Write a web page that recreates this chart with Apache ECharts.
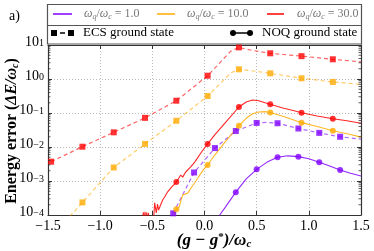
<!DOCTYPE html>
<html><head><meta charset="utf-8">
<script src="https://cdn.jsdelivr.net/npm/echarts@6/dist/echarts.min.js"></script>
<style>html,body{margin:0;padding:0;background:#fff}#c{width:374px;height:251px}</style>
</head><body><div id="c"></div>
<script>
// ---------- data ----------
const xTicks = [-1.5, -1.0, -0.5, 0.0, 0.5, 1.0, 1.5];
const yTickExps = [-4, -3, -2, -1, 0, 1];
const legendLabels = ['1.0', '10.0', '30.0'];

// ECS ground state (dashed lines, square markers)
const ecsRedX = [-1.47, -1.17, -0.87, -0.57, -0.27, 0.03, 0.25, 0.33, 0.45, 0.63, 0.93, 1.23, 1.5];
const ecsRedY = [3.7e-3, 0.0102, 0.027, 0.072, 0.23, 1.25, 6.5, 8.5, 7.0, 5.7, 4.7, 3.8, 3.2];
const ecsRedMX = [-1.47, -1.17, -0.87, -0.57, -0.27, 0.03, 0.33, 0.63, 0.93, 1.23];
const ecsRedMY = [3.7e-3, 0.0102, 0.027, 0.072, 0.23, 1.25, 8.5, 5.7, 4.7, 3.8];

const ecsOrangeX = [-1.47, -1.17, -0.87, -0.57, -0.27, 0.03, 0.25, 0.33, 0.45, 0.63, 0.93, 1.23, 1.5];
const ecsOrangeY = [2.2e-5, 2.35e-4, 2.5e-3, 0.0123, 0.059, 0.316, 1.5, 1.93, 1.75, 1.47, 1.05, 0.82, 0.69];
const ecsOrangeMX = [-1.17, -0.87, -0.57, -0.27, 0.03, 0.33, 0.63, 0.93, 1.23];
const ecsOrangeMY = [2.35e-4, 2.5e-3, 0.0123, 0.059, 0.316, 1.93, 1.47, 1.05, 0.82];

const ecsPurpleX = [-0.3, -0.1, 0.1, 0.3, 0.5, 0.6, 0.7, 0.9, 1.1, 1.3, 1.5];
const ecsPurpleY = [1.12e-4, 1.78e-3, 9.3e-3, 0.0295, 0.051, 0.053, 0.05, 0.035, 0.026, 0.02, 0.017];
const ecsPurpleMX = [-0.3, -0.1, 0.1, 0.3, 0.5, 0.7, 0.9, 1.1, 1.3];
const ecsPurpleMY = [1.12e-4, 1.78e-3, 9.3e-3, 0.0295, 0.051, 0.05, 0.035, 0.026, 0.02];

// NOQ ground state (solid lines, circle markers)
const noqRedX = [-0.62, -0.585, -0.578, -0.57, -0.562, -0.553, -0.545, -0.537, -0.53, -0.52, -0.487, -0.478, -0.462, -0.45, -0.44, -0.42, -0.40, -0.382, -0.353, -0.324, -0.27, -0.257, -0.228, -0.209, -0.18, -0.132, -0.094, -0.03, 0.03, 0.1, 0.2, 0.33, 0.4, 0.46, 0.52, 0.58, 0.63, 0.75, 0.85, 0.93, 1.08, 1.23, 1.38, 1.5];
const noqRedY = [3e-5, 1.2e-4, 5e-5, 1.25e-4, 6e-5, 1.2e-4, 5e-5, 1.15e-4, 6e-5, 7e-5, 8e-5, 2.3e-4, 1.15e-4, 2.1e-4, 1.4e-4, 2.0e-4, 2.8e-4, 3.4e-4, 4.8e-4, 6.2e-4, 9.3e-4, 1.07e-3, 1.5e-3, 1.3e-3, 1.84e-3, 2.6e-3, 3.6e-3, 7.0e-3, 0.0123, 0.023, 0.052, 0.15, 0.21, 0.24, 0.23, 0.2, 0.18, 0.14, 0.118, 0.102, 0.082, 0.068, 0.058, 0.05];
const noqRedMX = [-0.27, 0.03, 0.33, 0.63, 0.93, 1.23];
const noqRedMY = [9.3e-4, 0.0123, 0.15, 0.18, 0.102, 0.068];

const noqOrangeX = [-0.31, -0.285, -0.27, -0.241, -0.225, -0.209, -0.193, -0.161, -0.129, -0.097, -0.065, -0.033, 0.0, 0.03, 0.1, 0.2, 0.33, 0.4, 0.46, 0.52, 0.58, 0.63, 0.75, 0.85, 0.93, 1.08, 1.23, 1.38, 1.5];
const noqOrangeY = [5e-5, 1.1e-4, 1.48e-4, 1.75e-4, 2.75e-4, 3.9e-4, 3.5e-4, 4.4e-4, 6.2e-4, 8.6e-4, 1.2e-3, 1.7e-3, 2.35e-3, 2.95e-3, 5.9e-3, 0.0144, 0.0425, 0.07, 0.095, 0.107, 0.11, 0.103, 0.08, 0.063, 0.052, 0.04, 0.030, 0.024, 0.0195];
const noqOrangeMX = [-0.27, 0.03, 0.33, 0.63, 0.93, 1.23];
const noqOrangeMY = [1.48e-4, 2.95e-3, 0.0425, 0.103, 0.052, 0.030];

const noqPurpleX = [0.12, 0.146, 0.2, 0.3, 0.4, 0.5, 0.6, 0.7, 0.8, 0.9, 1.0, 1.1, 1.2, 1.3, 1.4, 1.5];
const noqPurpleY = [7e-5, 1e-4, 1.7e-4, 4.7e-4, 1.15e-3, 2.2e-3, 3.6e-3, 5.0e-3, 5.5e-3, 5.2e-3, 4.5e-3, 3.55e-3, 2.75e-3, 2.1e-3, 1.7e-3, 1.4e-3];
const noqPurpleMX = [0.3, 0.5, 0.7, 0.9, 1.1, 1.3];
const noqPurpleMY = [4.7e-4, 2.2e-3, 5.0e-3, 5.2e-3, 3.55e-3, 2.1e-3];

// ---------- styling ----------
const PURPLE = '#8000ff', ORANGE = '#ffaa00', RED = '#ff0000';
const SERIF = '"Liberation Serif", "DejaVu Serif", serif';
const zip = (xs, ys) => xs.map((x, i) => [x, ys[i]]);
const minorVals = [];
for (let e = -4; e <= 0; e++) for (let k = 2; k <= 9; k++) minorVals.push([0, k * Math.pow(10, e)]);

function dashLine(name, xs, ys, color) {
  return { name, type: 'line', data: zip(xs, ys), symbol: 'none', clip: true, z: 3,
    lineStyle: { color, width: 1.2, type: [4, 3], opacity: 0.6 } };
}
function solidLine(name, xs, ys, color) {
  return { name, type: 'line', data: zip(xs, ys), symbol: 'none', clip: true, z: 3,
    lineStyle: { color, width: 1.1, opacity: 0.85 } };
}
function marks(name, xs, ys, color, sym) {
  return { name, type: 'scatter', data: zip(xs, ys), symbol: sym, symbolSize: 6,
    clip: true, z: 5, itemStyle: { color } };
}

const supFmt = function (v) {
  const e = Math.round(Math.log10(v));
  const s = e < 0 ? '\u2212' + (-e) : '' + e;
  return '{b|10}{s|' + s + '}';
};

const lgTextRich = {
  i: { fontFamily: SERIF, fontStyle: 'italic', fontSize: 12, fill: '#777' },
  sb: { fontFamily: SERIF, fontStyle: 'italic', fontSize: 8, fill: '#777', padding: [6, 0, 0, 0] },
  n: { fontFamily: SERIF, fontSize: 12, fill: '#777' }
};

const legendRow1 = [
  { x1: 53, x2: 72, tx: 84, color: PURPLE },
  { x1: 157, x2: 175, tx: 187, color: ORANGE },
  { x1: 267, x2: 284, tx: 297, color: RED }
];

const graphics = [
  { type: 'rect', shape: { x: 47.5, y: 4.5, width: 314, height: 39.5 }, style: { fill: '#fff', stroke: '#555', lineWidth: 1.2 }, z: 10 },
  { type: 'line', shape: { x1: 47.5, y1: 25.5, x2: 361.5, y2: 25.5 }, style: { stroke: '#555', lineWidth: 1.2 }, z: 11 },
  { type: 'text', x: 9, y: 16, style: { text: 'a)', font: '14px ' + SERIF, fill: '#000', verticalAlign: 'middle' }, z: 11 },
  // row 2
  { type: 'rect', shape: { x: 51, y: 30, width: 6, height: 6 }, style: { fill: '#000' }, z: 11 },
  { type: 'line', shape: { x1: 60, y1: 33, x2: 65, y2: 33 }, style: { stroke: '#000', lineWidth: 1.5 }, z: 11 },
  { type: 'rect', shape: { x: 68, y: 30, width: 6, height: 6 }, style: { fill: '#000' }, z: 11 },
  { type: 'text', x: 83, y: 33, style: { text: 'ECS ground state', font: '13px ' + SERIF, fill: '#000', verticalAlign: 'middle' }, z: 11 },
  { type: 'line', shape: { x1: 233, y1: 33, x2: 250, y2: 33 }, style: { stroke: '#000', lineWidth: 1.5 }, z: 11 },
  { type: 'circle', shape: { cx: 233, cy: 33, r: 3 }, style: { fill: '#000' }, z: 12 },
  { type: 'circle', shape: { cx: 250, cy: 33, r: 3 }, style: { fill: '#000' }, z: 12 },
  { type: 'text', x: 262, y: 33, style: { text: 'NOQ ground state', font: '13px ' + SERIF, fill: '#000', verticalAlign: 'middle' }, z: 11 },
  // axis titles
  { type: 'text', x: 214, y: 241, style: {
      text: '{a|(g \u2212 g}{p|*}{a|)/\u03C9}{q|c}', align: 'center', verticalAlign: 'middle',
      rich: {
        a: { fontFamily: SERIF, fontStyle: 'italic', fontWeight: 'bold', fontSize: 17, fill: '#000' },
        p: { fontFamily: SERIF, fontWeight: 'bold', fontSize: 11, fill: '#000', padding: [0, 0, 7, 0] },
        q: { fontFamily: SERIF, fontStyle: 'italic', fontWeight: 'bold', fontSize: 11, fill: '#000', padding: [7, 0, 0, 0] }
      } }, z: 11 },
  { type: 'text', x: 12, y: 131, rotation: Math.PI / 2, style: {
      text: '{a|Energy error (}{i|\u0394E/\u03C9}{q|c}{a|)}', align: 'center', verticalAlign: 'middle',
      rich: {
        a: { fontFamily: SERIF, fontWeight: 'bold', fontSize: 16, fill: '#000' },
        i: { fontFamily: SERIF, fontStyle: 'italic', fontWeight: 'bold', fontSize: 16, fill: '#000' },
        q: { fontFamily: SERIF, fontStyle: 'italic', fontWeight: 'bold', fontSize: 10, fill: '#000', padding: [6, 0, 0, 0] }
      } }, z: 11 }
];
legendRow1.forEach((r, i) => {
  graphics.push({ type: 'line', shape: { x1: r.x1, y1: 14, x2: r.x2, y2: 14 }, style: { stroke: r.color, lineWidth: 1.5 }, z: 11 });
  graphics.push({ type: 'text', x: r.tx, y: 14, style: {
    text: '{i|\u03C9}{sb|q}{n|/}{i|\u03C9}{sb|c}{n| = ' + legendLabels[i] + '}', verticalAlign: 'middle', rich: lgTextRich }, z: 11 });
});

const axisLineStyle = { show: true, onZero: false, lineStyle: { color: '#333', width: 1.2 } };
const gridLine = { show: true, lineStyle: { color: '#bbb', type: [1, 2], width: 1 } };
const tickIn = { show: true, inside: true, length: 4, lineStyle: { color: '#333' } };

const chart = echarts.init(document.getElementById('c'));
chart.setOption({
  animation: false,
  backgroundColor: '#fff',
  grid: { left: 48, right: 13, top: 45, bottom: 36, containLabel: false },
  xAxis: [
    { type: 'value', min: -1.5, max: 1.5, interval: 0.5, position: 'bottom',
      axisLine: axisLineStyle, axisTick: tickIn, splitLine: gridLine,
      axisLabel: { margin: 4, color: '#000', fontFamily: SERIF, fontSize: 14,
        formatter: v => (v < 0 ? '\u2212' : '') + Math.abs(v).toFixed(1) } },
    { type: 'value', min: -1.5, max: 1.5, interval: 0.5, position: 'top',
      axisLine: axisLineStyle, axisTick: tickIn, splitLine: { show: false }, axisLabel: { show: false } }
  ],
  yAxis: [
    { type: 'log', logBase: 10, min: 1e-4, max: 10, position: 'left',
      axisLine: axisLineStyle, axisTick: tickIn, splitLine: gridLine,
      axisLabel: { margin: 4, formatter: supFmt,
        rich: {
          b: { fontFamily: SERIF, fontSize: 14, color: '#000', lineHeight: 14, padding: [3, 0, 3, 0], verticalAlign: 'bottom' },
          s: { fontFamily: SERIF, fontSize: 10, color: '#000', lineHeight: 10, verticalAlign: 'top' }
        } } },
    { type: 'log', logBase: 10, min: 1e-4, max: 10, position: 'right',
      axisLine: axisLineStyle, axisTick: tickIn, splitLine: { show: false }, axisLabel: { show: false } }
  ],
  graphic: graphics,
  series: [
    dashLine('ECS 30.0', ecsRedX, ecsRedY, RED),
    dashLine('ECS 10.0', ecsOrangeX, ecsOrangeY, ORANGE),
    dashLine('ECS 1.0', ecsPurpleX, ecsPurpleY, PURPLE),
    solidLine('NOQ 30.0', noqRedX, noqRedY, RED),
    solidLine('NOQ 10.0', noqOrangeX, noqOrangeY, ORANGE),
    solidLine('NOQ 1.0', noqPurpleX, noqPurpleY, PURPLE),
    marks('ECS 30.0 m', ecsRedMX, ecsRedMY, RED, 'rect'),
    marks('ECS 10.0 m', ecsOrangeMX, ecsOrangeMY, ORANGE, 'rect'),
    marks('ECS 1.0 m', ecsPurpleMX, ecsPurpleMY, PURPLE, 'rect'),
    marks('NOQ 30.0 m', noqRedMX, noqRedMY, RED, 'circle'),
    marks('NOQ 10.0 m', noqOrangeMX, noqOrangeMY, ORANGE, 'circle'),
    marks('NOQ 1.0 m', noqPurpleMX, noqPurpleMY, PURPLE, 'circle'),
    { name: 'minor ticks', type: 'custom', data: minorVals, silent: true, z: 6,
      renderItem: function (params, api) {
        const v = api.value(1);
        const l = api.coord([-1.5, v]);
        const r = api.coord([1.5, v]);
        return { type: 'group', children: [
          { type: 'line', shape: { x1: l[0], y1: l[1], x2: l[0] + 2.5, y2: l[1] }, style: { stroke: '#333', lineWidth: 0.8 } },
          { type: 'line', shape: { x1: r[0], y1: r[1], x2: r[0] - 2.5, y2: r[1] }, style: { stroke: '#333', lineWidth: 0.8 } }
        ] };
      } }
  ]
});
</script></body></html>
